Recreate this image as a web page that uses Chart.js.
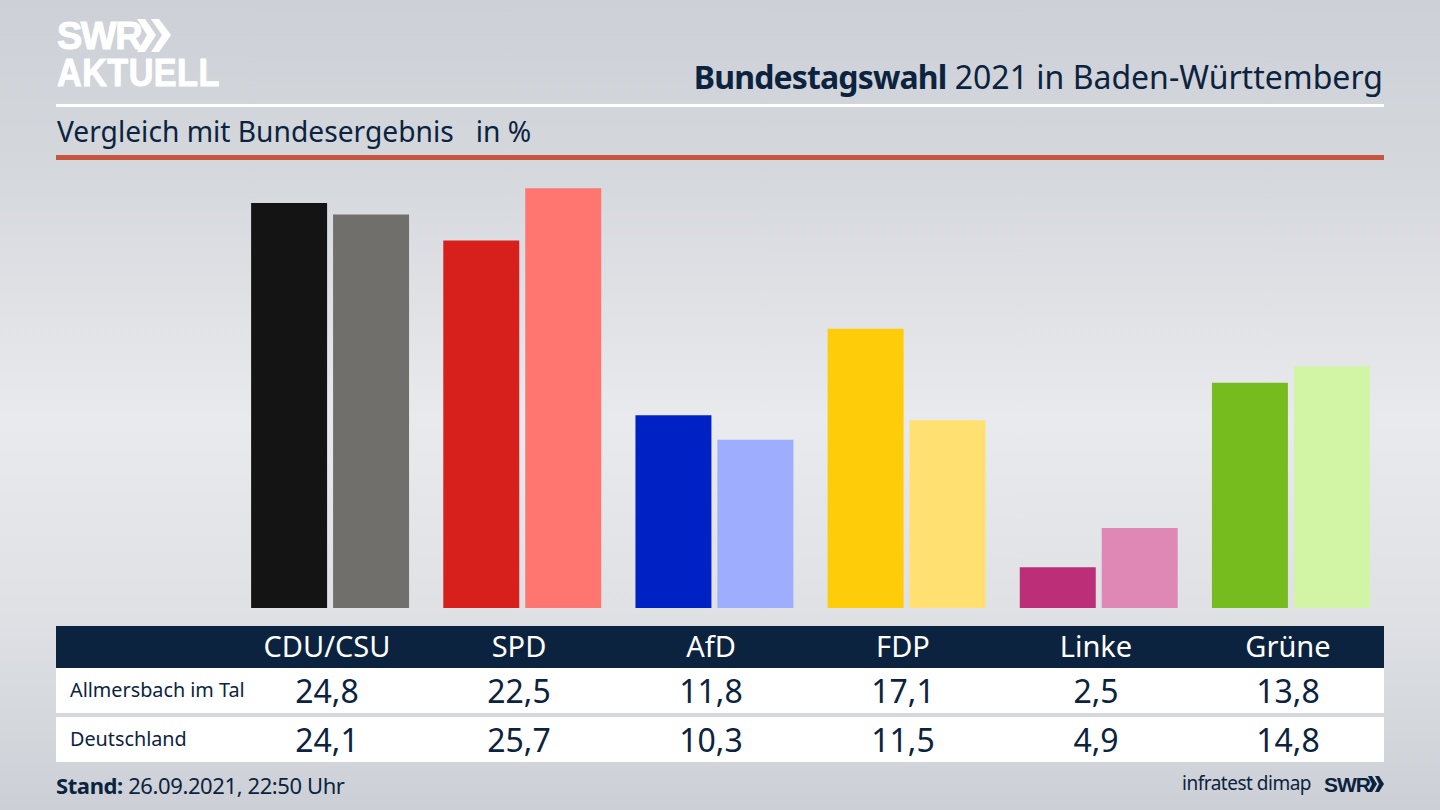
<!DOCTYPE html>
<html lang="de">
<head>
<meta charset="utf-8">
<title>Bundestagswahl 2021 in Baden-Württemberg</title>
<script src="https://cdn.jsdelivr.net/npm/chart.js@4"></script>
<style>
html,body{margin:0;padding:0;}
body{position:relative;width:1440px;height:810px;overflow:hidden;color:#0c2340;font-family:"Noto Sans",sans-serif;
 background:linear-gradient(180deg,#cdd0d6 0%,#d4d7dc 20%,#e9eaed 52%,#dfe1e5 75%,#ccd0d6 100%);}
.abs{position:absolute;white-space:pre;line-height:1;}
#logo1,#logo2{color:#fff;font-weight:900;font-family:"Liberation Sans",sans-serif;-webkit-text-stroke:1px #fff;transform-origin:left top;}
#logo1{left:57px;top:17px;font-size:38px;letter-spacing:-1.5px;}
#logo2{left:57px;top:54px;font-size:38px;letter-spacing:0.5px;transform:scaleX(.9);}
#title{right:57px;top:61px;font-size:32px;}
#title b{font-weight:700;letter-spacing:-.85px;}
#sub{left:57px;top:117px;font-size:28.2px;}
#ruleW{left:56px;top:104px;width:1328px;height:3px;background:#fff;}
#ruleR{left:56px;top:155px;width:1328px;height:5px;background:#c8553f;}
#chartBox{left:234px;top:166px;width:1153px;height:442px;}
#head{left:56px;top:626px;width:1328px;height:42px;background:#0c2340;}
#row1{left:56px;top:668px;width:1328px;height:45px;background:#fff;}
#row2{left:56px;top:717px;width:1328px;height:45px;background:#fff;}
.hd,.val{transform:translateX(-50%);}
.hd{color:#fff;font-size:29px;top:631px;}
.val{font-size:32px;}
.rl{left:70px;font-size:19.8px;}
#stand{left:56px;top:774px;font-size:22px;letter-spacing:-.4px;}
#source{right:129px;top:774px;font-size:19px;letter-spacing:-.5px;}
#swr2{left:1324px;top:774px;font-size:21px;font-weight:900;font-family:"Liberation Sans",sans-serif;letter-spacing:-1px;}
</style>
</head>
<body>
<div class="abs" id="logo1">SWR</div>
<svg class="abs" style="left:137px;top:19px" width="36" height="33"><polygon points="0,0 8,0 19,16 8,33 0,33 10,16" fill="#fff"/><polygon points="14,0 22,0 34,16 22,33 14,33 25,16" fill="#fff"/></svg>
<div class="abs" id="logo2">AKTUELL</div>
<div class="abs" id="title"><b>Bundestagswahl</b> 2021 in Baden-Württemberg</div>
<div class="abs" id="ruleW"></div>
<div class="abs" id="sub">Vergleich mit Bundesergebnis   in %</div>
<div class="abs" id="ruleR"></div>
<div class="abs" id="chartBox"><canvas id="barChart" width="1153" height="442"></canvas></div>
<div class="abs" id="head"></div>
<div class="abs" id="row1"></div>
<div class="abs" id="row2"></div>
<div id="table"></div>
<div class="abs" id="stand"><b>Stand:</b> 26.09.2021, 22:50 Uhr</div>
<div class="abs" id="source">infratest dimap</div>
<div class="abs" id="swr2">SWR</div>
<svg class="abs" style="left:1368px;top:776px" width="16" height="16"><polygon points="0,0 4,0 9,8 4,16 0,16 4,8" fill="#0c2340"/><polygon points="7,0 11,0 16,8 11,16 7,16 11,8" fill="#0c2340"/></svg>
<script>
const parties=["CDU/CSU","SPD","AfD","FDP","Linke","Grüne"];
const localName="Allmersbach im Tal";
const nationalName="Deutschland";
const localValues=[24.8,22.5,11.8,17.1,2.5,13.8];
const nationalValues=[24.1,25.7,10.3,11.5,4.9,14.8];
const localColors=["#141414","#d71f1c","#0022c4","#ffcc0a","#bc2e78","#77bc1f"];
const nationalColors=["#716f6c","#ff7570","#9fadff","#ffe070","#df88b6","#d2f5a5"];
const labelCenters=[327,519,711,903,1096,1288];

const fmt=v=>v.toFixed(1).replace(".",",");
const table=document.getElementById("table");
function addCell(cls,text,top,x){
 const d=document.createElement("div");
 d.className="abs "+cls;
 d.textContent=text;
 if(top!==null)d.style.top=top+"px";
 if(x!==null)d.style.left=x+"px";
 table.appendChild(d);
}
parties.forEach((p,i)=>{
 addCell("hd",p,null,labelCenters[i]);
 addCell("val",fmt(localValues[i]),675,labelCenters[i]);
 addCell("val",fmt(nationalValues[i]),724,labelCenters[i]);
});
addCell("rl",localName,680,null);
addCell("rl",nationalName,729,null);

new Chart(document.getElementById("barChart"),{
 type:"bar",
 data:{
  labels:parties,
  datasets:[
   {label:localName,data:localValues,backgroundColor:localColors},
   {label:nationalName,data:nationalValues,backgroundColor:nationalColors}
  ]
 },
 options:{
  responsive:false,
  animation:false,
  layout:{padding:0},
  categoryPercentage:0.853,
  barPercentage:0.927,
  plugins:{legend:{display:false},tooltip:{enabled:false}},
  scales:{
   x:{display:false},
   y:{display:false,min:0,max:27.07}
  }
 }
});
</script>
</body>
</html>
